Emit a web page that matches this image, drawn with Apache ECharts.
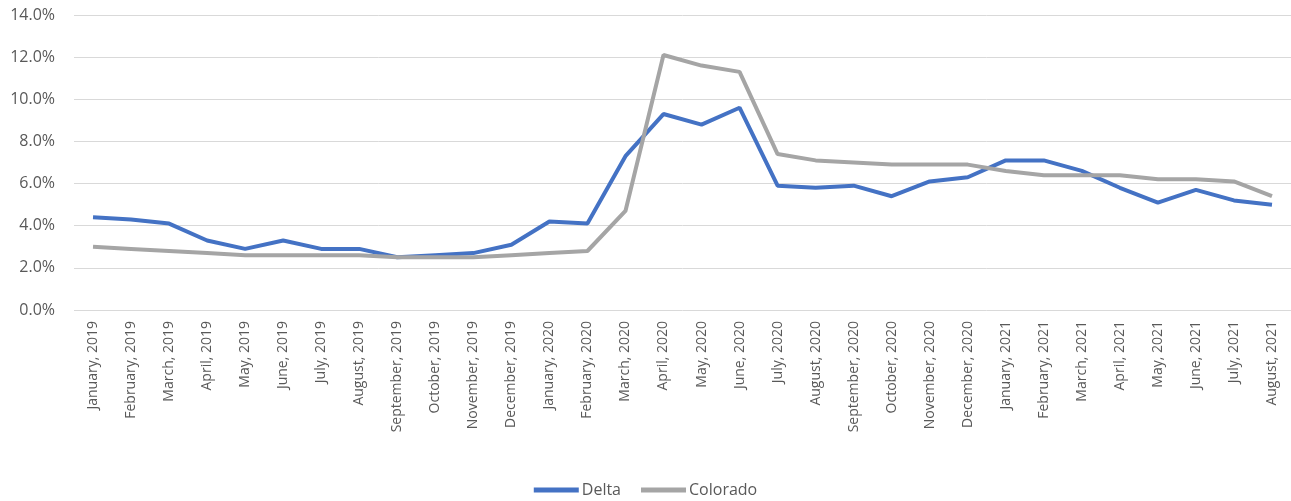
<!DOCTYPE html>
<html><head><meta charset="utf-8">
<script src="https://cdn.jsdelivr.net/npm/echarts@6/dist/echarts.min.js"></script>
<style>html,body{margin:0;padding:0;background:#fff}#c{width:1291px;height:501px}</style>
</head><body><div id="c"></div>
<script>
const categories = ["January, 2019","February, 2019","March, 2019","April, 2019","May, 2019","June, 2019","July, 2019","August, 2019","September, 2019","October, 2019","November, 2019","December, 2019","January, 2020","February, 2020","March, 2020","April, 2020","May, 2020","June, 2020","July, 2020","August, 2020","September, 2020","October, 2020","November, 2020","December, 2020","January, 2021","February, 2021","March, 2021","April, 2021","May, 2021","June, 2021","July, 2021","August, 2021"];
const delta = [4.4,4.3,4.1,3.3,2.9,3.3,2.9,2.9,2.5,2.6,2.7,3.1,4.2,4.1,7.3,9.3,8.8,9.6,5.9,5.8,5.9,5.4,6.1,6.3,7.1,7.1,6.6,5.8,5.1,5.7,5.2,5.0];
const colorado = [3.0,2.9,2.8,2.7,2.6,2.6,2.6,2.6,2.5,2.5,2.5,2.6,2.7,2.8,4.7,12.1,11.6,11.3,7.4,7.1,7.0,6.9,6.9,6.9,6.6,6.4,6.4,6.4,6.2,6.2,6.1,5.4];
const seriesNames = ["Delta","Colorado"];
const font = "Open Sans, Liberation Sans, sans-serif";
const chart = echarts.init(document.getElementById('c'), null, {renderer:'canvas'});
chart.setOption({
  animation:false,
  textStyle:{fontFamily:font},
  grid:{left:74,right:0,top:15,bottom:191,containLabel:false,outerBoundsMode:'none'},
  legend:{bottom:-2,left:'center',itemWidth:45,itemHeight:5,itemGap:20,icon:'rect',
    textStyle:{fontSize:16,color:'#595959',fontFamily:font,padding:[0,0,0,-2]},data:seriesNames},
  xAxis:{type:'category',data:categories,boundaryGap:true,
    axisLine:{show:false},axisTick:{show:false},
    axisLabel:{rotate:90,interval:0,fontSize:14,color:'#595959',margin:11,fontFamily:font}},
  yAxis:{type:'value',min:0,max:14,interval:2,
    axisLine:{show:false},axisTick:{show:false},
    splitLine:{lineStyle:{color:'#d9d9d9',width:1}},
    axisLabel:{formatter:v=>v.toFixed(1)+'%',fontSize:16,color:'#595959',margin:19,fontFamily:font}},
  series:[
    {name:seriesNames[0],type:'line',data:delta,symbol:'none',lineStyle:{width:4,color:'#4472C4'},itemStyle:{color:'#4472C4'}},
    {name:seriesNames[1],type:'line',data:colorado,symbol:'none',lineStyle:{width:4,color:'#A5A5A5'},itemStyle:{color:'#A5A5A5'}}
  ]
});
</script></body></html>
